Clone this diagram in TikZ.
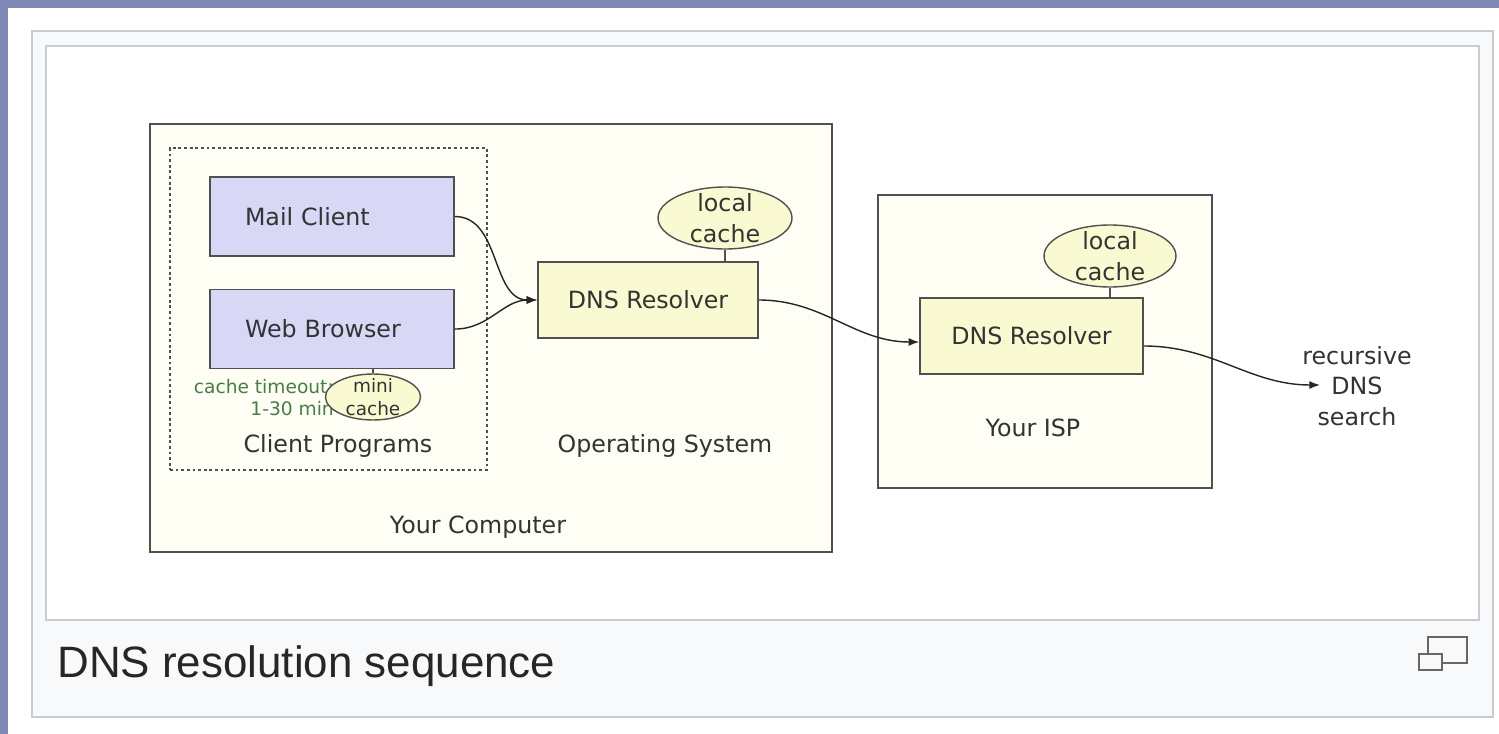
\documentclass[tikz,border=0pt]{standalone}
\usepackage{fontspec}
\setmainfont{DejaVu Sans}
\newfontfamily\capfont{Liberation Sans}
\tikzset{>=latex}
\usetikzlibrary{positioning,shapes.geometric,arrows.meta}
\definecolor{wikiblue}{RGB}{128,137,184}
\definecolor{framegray}{RGB}{200,204,209}
\definecolor{capbg}{RGB}{248,249,250}
\definecolor{areafill}{RGB}{254,254,244}
\definecolor{resfill}{RGB}{250,250,210}
\definecolor{progfill}{RGB}{216,216,246}
\definecolor{timegreen}{RGB}{70,125,70}
\definecolor{edgegray}{RGB}{80,80,80}

\begin{document}
\begin{tikzpicture}[x=0.02cm, y=-0.02cm,
    area/.style={draw=edgegray, line width=0.9pt, fill=areafill},
    prog/.style={draw=edgegray, line width=0.9pt, fill=progfill, minimum width=4.88cm, minimum height=1.58cm, text width=3.48cm, align=left, text=black!80, font=\fontsize{13.5}{16}\selectfont},
    resolver/.style={draw=edgegray, line width=0.9pt, fill=resfill, minimum width=4.4cm, minimum height=1.52cm, text=black!80, font=\fontsize{13.5}{16}\selectfont},
    cachebox/.style={draw=edgegray, line width=0.8pt, fill=resfill, ellipse, inner sep=0pt},
    txt/.style={font=\fontsize{13.5}{17.5}\selectfont, text=black!80, align=center},
    link/.style={-{Latex[length=6pt,width=4.5pt]}, line width=0.8pt, draw=black!85}]
      \useasboundingbox (0,0) rectangle (1499,734);
      % page frame
      \fill[wikiblue] (0,0) rectangle (1499,734);
      \fill[white] (8,8) rectangle (1499,734);
      \draw[framegray, fill=capbg, line width=1.2pt] (32,31) rectangle (1493,717);
      \draw[framegray, fill=white, line width=1.2pt] (46,46) rectangle (1479,620);
      \node[anchor=base west, inner sep=0pt, text=black!85, font=\capfont\fontsize{25}{28}\selectfont] (cap) at (57,677) {DNS resolution sequence};
      \draw[black!60, line width=1.3pt] (1428,637) rectangle (1467,663);
      \draw[black!60, line width=1.3pt, fill=capbg] (1419,654) rectangle (1442,670);
      % your computer
      \node[area, minimum width=13.64cm, minimum height=8.56cm] (comp) at (491,338) {};
      \node[draw=edgegray, dash pattern=on 1.6pt off 1.6pt, line width=0.8pt, minimum width=6.34cm, minimum height=6.44cm] (clients) at (328.5,309) {};
      \node[prog] (mail) at (332,216.5) {Mail Client};
      \node[prog, below=0.64cm of mail] (web) {Web Browser};
      \node[anchor=east, align=right, text=timegreen, font=\fontsize{10.6}{12.5}\selectfont] (tout) at (340,398) {cache timeout:\\1-30 min};
      \node[cachebox, minimum width=1.9cm, minimum height=0.92cm] (minic) at (373,397) {};
      \node[align=center, text=black!80, font=\fontsize{10.5}{13}\selectfont] (lmini) at (minic) {mini\\cache};
      \node[resolver] (res1) at (648,300) {DNS Resolver};
      \node[cachebox, minimum width=2.68cm, minimum height=1.24cm] (cache1) at (725,218) {};
      \node[txt] (lcache1) at (cache1) {local\\cache};
      \node[txt] (lclients) at (338,446) {Client Programs};
      \node[txt] (los) at (665,446) {Operating System};
      \node[txt] (lcomp) at (478,527) {Your Computer};
      % your isp
      \node[area, minimum width=6.68cm, minimum height=5.86cm] (isp) at (1045,341.5) {};
      \node[resolver, minimum width=4.46cm] (res2) at (1031.5,336) {DNS Resolver};
      \node[cachebox, minimum width=2.64cm, minimum height=1.24cm] (cache2) at (1110,256) {};
      \node[txt] (lcache2) at (cache2) {local\\cache};
      \node[txt] (lisp) at (1033,428) {Your ISP};
      \node[txt] (search) at (1357,386) {recursive\\DNS\\search};
      \coordinate (aux1) at (1320,385);
      \draw[edgegray, line width=0.8pt] (minic.north) -- (minic.north |- web.south);
      \draw[edgegray, line width=0.8pt] (cache1.south) -- (cache1.south |- res1.north);
      \draw[edgegray, line width=0.8pt] (cache2.south) -- (cache2.south |- res2.north);
      \draw[link] (mail.east) to[out=0, in=180] (res1.west);
      \draw[link] (web.east) to[out=0, in=180] (res1.west);
      \draw[link] (res1.east) to[out=0, in=180] ([yshift=-0.12cm]res2.west);
      \draw[link] ([yshift=-0.2cm]res2.east) to[out=0, in=180] (aux1);
    \end{tikzpicture}
\end{document}
